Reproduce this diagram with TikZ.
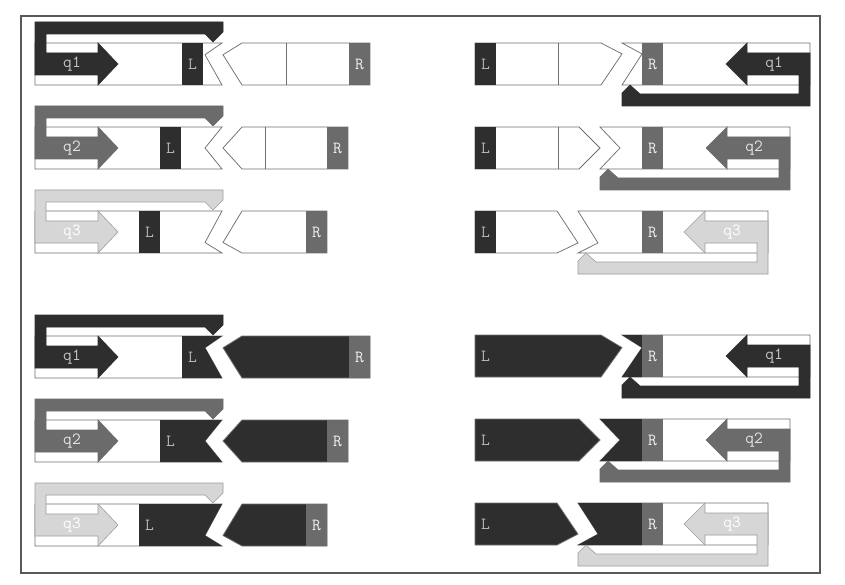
\documentclass[tikz,border=0pt]{standalone}
\usepackage{fontspec}
\definecolor{dk}{HTML}{2E2E2E}
\definecolor{md}{HTML}{6B6B6B}
\definecolor{lt}{HTML}{D6D6D6}
\definecolor{edge}{HTML}{707070}
\colorlet{dkedge}{dk}
\colorlet{mdedge}{md}
\colorlet{ltedge}{black!38}
\colorlet{dktxt}{black!22}
\colorlet{mdtxt}{black!10}
\colorlet{lttxt}{white}
\colorlet{Ltxt}{black!28}
\colorlet{Rtxt}{black!6}
\newif\ifdarkrow
\tikzset{
  barline/.style={draw=edge, line width=0.75pt},
  lbl/.style={font=\ttfamily\fontsize{17}{17}\selectfont, inner sep=0pt},
  loopfill/.style={line width=0.6pt}
}
% left column row: #1 id, #2 top, #3 L block x, #4 right end, #5 divider x (0 none), #6 tip fraction, #7 loop colour, #8 label
\newcommand{\mkleft}[8]{%
  \pgfmathsetmacro\myT{#2}%
  \pgfmathsetmacro\myB{#2+42}%
  \pgfmathsetmacro\myM{#2+21}%
  \pgfmathsetmacro\myY{#2+42*#6}%
  \draw[barline, fill=white] (35,\myT) -- (222,\myT) -- (205,\myY) -- (222,\myB) -- (35,\myB) -- cycle;
  \ifdarkrow
    \fill[dk] (#3,\myT) -- (222,\myT) -- (205,\myY) -- (222,\myB) -- (#3,\myB) -- cycle;
    \draw[barline, fill=dk] (223,\myY) -- (242,\myT) -- (#4,\myT) -- (#4,\myB) -- (242,\myB) -- cycle;
  \else
    \fill[dk] (#3,\myT) rectangle (#3+21,\myB);
    \draw[barline, fill=white] (223,\myY) -- (242,\myT) -- (#4,\myT) -- (#4,\myB) -- (242,\myB) -- cycle;
    \ifnum#5>0 \draw[barline] (#5,\myT) -- (#5,\myB);\fi
  \fi
  \fill[md] (#4-21,\myT) rectangle (#4,\myB);
  \node[lbl, text=Ltxt] (L#1) at (#3+10.5,\myM) {L};
  \node[lbl, text=Rtxt] (R#1) at (#4-10.5,\myM) {R};
  \draw[loopfill, fill=#7, draw=#7edge] (118,\myM) -- (98,\myT) -- (98,\myT+10) -- (46,\myT+10) -- (46,\myT-9) -- (205,\myT-9) -- (213,\myT-1) -- (223,\myT-11) -- (223,\myT-21) -- (35,\myT-21) -- (35,\myB-10) -- (98,\myB-10) -- (98,\myB) -- cycle;
  \node[lbl, text=#7txt] (q#1) at (72,\myM) {#8};
}
% right column row: #1 id, #2 top, #3 notch x, #4 right end, #5 divider x (0 none), #6 tip fraction, #7 loop colour, #8 label
\newcommand{\mkright}[8]{%
  \pgfmathsetmacro\myT{#2}%
  \pgfmathsetmacro\myB{#2+42}%
  \pgfmathsetmacro\myM{#2+21}%
  \pgfmathsetmacro\myY{#2+42*#6}%
  \pgfmathsetmacro\myHB{#4-63}%
  \pgfmathsetmacro\myHT{#4-84}%
  \draw[barline, fill=white] (#3,\myT) -- (#4,\myT) -- (#4,\myB) -- (#3,\myB) -- (#3+20,\myY) -- cycle;
  \ifdarkrow
    \draw[barline, fill=dk] (475,\myT) -- (#3-21,\myT) -- (#3,\myY) -- (#3-21,\myB) -- (475,\myB) -- cycle;
    \fill[dk] (#3,\myT) -- (642,\myT) -- (642,\myB) -- (#3,\myB) -- (#3+20,\myY) -- cycle;
  \else
    \draw[barline, fill=white] (475,\myT) -- (#3-21,\myT) -- (#3,\myY) -- (#3-21,\myB) -- (475,\myB) -- cycle;
    \fill[dk] (475,\myT) rectangle (496,\myB);
    \ifnum#5>0 \draw[barline] (#5,\myT) -- (#5,\myB);\fi
  \fi
  \fill[md] (642,\myT) rectangle (663,\myB);
  \node[lbl, text=Ltxt] (L#1) at (485.5,\myM) {L};
  \node[lbl, text=Rtxt] (R#1) at (652.5,\myM) {R};
  \draw[loopfill, fill=#7, draw=#7edge] (\myHT,\myM) -- (\myHB,\myT) -- (\myHB,\myT+10) -- (#4,\myT+10) -- (#4,\myB+21) -- (#3,\myB+21) -- (#3,\myB+8) -- (#3+8,\myB) -- (#3+18,\myB+9) -- (#4-11,\myB+9) -- (#4-11,\myB-10) -- (\myHB,\myB-10) -- (\myHB,\myB) -- cycle;
  \node[lbl, text=#7txt] (q#1) at (#4-36,\myM) {#8};
}
\begin{document}
\begin{tikzpicture}[x=1pt,y=-1pt]
\useasboundingbox (0,0) rectangle (845,585);
\fill[white] (0,0) rectangle (845,585);
\draw[line width=1.3pt, draw=black!65] (21,16) rectangle (820,573);
\darkrowfalse
\mkleft{a}{43}{182}{370}{286}{0.28}{dk}{q1}
\mkleft{b}{127}{160}{348}{265}{0.5}{md}{q2}
\mkleft{c}{211}{139}{327}{0}{0.75}{lt}{q3}
\mkright{d}{43}{622}{810}{558}{0.26}{dk}{q1}
\mkright{e}{127}{600}{790}{558}{0.5}{md}{q2}
\mkright{f}{211}{578}{768}{0}{0.76}{lt}{q3}
\darkrowtrue
\mkleft{g}{336}{182}{370}{0}{0.28}{dk}{q1}
\mkleft{h}{420}{160}{348}{0}{0.5}{md}{q2}
\mkleft{i}{504}{139}{327}{0}{0.75}{lt}{q3}
\mkright{j}{335}{622}{810}{0}{0.3}{dk}{q1}
\mkright{k}{419}{600}{790}{0}{0.5}{md}{q2}
\mkright{l}{503}{578}{768}{0}{0.74}{lt}{q3}
\end{tikzpicture}
\end{document}
